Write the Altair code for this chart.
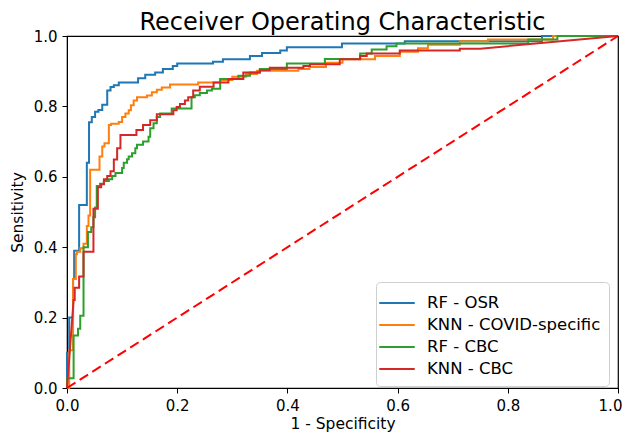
import altair as alt
import pandas as pd

MODELS = ["RF - OSR", "KNN - COVID-specific", "RF - CBC", "KNN - CBC"]
COLORS = ["#1f77b4", "#ff7f0e", "#2ca02c", "#d62728"]

# Staircase ROC points: (fpr where the curve rises, tpr reached)
rf_osr = [(0, 0), (0, 0.10), (0.004, 0.20), (0.011, 0.31), (0.013, 0.39), (0.022, 0.52),
          (0.036, 0.64), (0.040, 0.755), (0.045, 0.77), (0.051, 0.785), (0.057, 0.79),
          (0.064, 0.805), (0.073, 0.845), (0.079, 0.855), (0.085, 0.86), (0.094, 0.868),
          (0.129, 0.88), (0.142, 0.89), (0.160, 0.896), (0.174, 0.906), (0.192, 0.915),
          (0.200, 0.922), (0.265, 0.927), (0.283, 0.934), (0.332, 0.943), (0.354, 0.952),
          (0.387, 0.959), (0.399, 0.968), (0.499, 0.979), (0.613, 0.985), (0.862, 1.0), (1.0, 1.0)]

knn_covid = [(0, 0), (0.004, 0.107), (0.011, 0.31), (0.016, 0.38), (0.018, 0.387), (0.024, 0.397),
             (0.030, 0.41), (0.036, 0.46), (0.039, 0.49), (0.042, 0.62), (0.059, 0.658),
             (0.064, 0.686), (0.068, 0.695), (0.076, 0.747), (0.080, 0.751), (0.094, 0.756),
             (0.100, 0.77), (0.106, 0.78), (0.112, 0.789), (0.116, 0.803), (0.121, 0.817),
             (0.127, 0.826), (0.145, 0.831), (0.154, 0.84), (0.163, 0.847), (0.172, 0.854),
             (0.187, 0.862), (0.238, 0.868), (0.278, 0.875), (0.300, 0.884), (0.325, 0.892),
             (0.345, 0.901), (0.420, 0.906), (0.440, 0.912), (0.470, 0.924), (0.500, 0.934),
             (0.559, 0.943), (0.604, 0.955), (0.637, 0.965), (0.655, 0.975), (0.713, 0.985),
             (0.764, 0.99), (0.882, 1.0), (1.0, 1.0)]

rf_cbc = [(0, 0), (0, 0.028), (0.012, 0.149), (0.020, 0.168), (0.024, 0.205), (0.030, 0.40),
          (0.038, 0.443), (0.044, 0.457), (0.048, 0.485), (0.051, 0.513), (0.054, 0.574),
          (0.060, 0.58), (0.067, 0.588), (0.076, 0.593), (0.082, 0.602), (0.088, 0.611),
          (0.100, 0.625), (0.103, 0.64), (0.109, 0.65), (0.112, 0.658), (0.118, 0.667),
          (0.124, 0.681), (0.127, 0.691), (0.138, 0.70), (0.148, 0.714), (0.151, 0.738),
          (0.157, 0.752), (0.163, 0.77), (0.169, 0.78), (0.190, 0.794), (0.226, 0.826),
          (0.232, 0.832), (0.241, 0.838), (0.254, 0.845), (0.263, 0.85), (0.278, 0.878),
          (0.311, 0.887), (0.332, 0.896), (0.350, 0.906), (0.399, 0.922), (0.468, 0.935),
          (0.532, 0.95), (0.553, 0.962), (0.580, 0.971), (0.598, 0.979), (0.837, 0.99),
          (0.890, 1.0), (1.0, 1.0)]

# KNN - CBC curve vertices (drawn straight between points)
knn_cbc = [(0, 0), (0.012, 0.25), (0.014, 0.25), (0.014, 0.285), (0.022, 0.285), (0.022, 0.317),
           (0.030, 0.317), (0.030, 0.387), (0.048, 0.387), (0.048, 0.509), (0.056, 0.509),
           (0.056, 0.57), (0.062, 0.57), (0.062, 0.579), (0.067, 0.579), (0.067, 0.593),
           (0.073, 0.593), (0.073, 0.602), (0.079, 0.602), (0.079, 0.616), (0.085, 0.616),
           (0.085, 0.649), (0.091, 0.649), (0.091, 0.681), (0.097, 0.681), (0.097, 0.719),
           (0.126, 0.719), (0.126, 0.733), (0.138, 0.733), (0.138, 0.747), (0.151, 0.747),
           (0.151, 0.761), (0.163, 0.761), (0.163, 0.778), (0.193, 0.778), (0.193, 0.789),
           (0.199, 0.789), (0.199, 0.798), (0.205, 0.798), (0.205, 0.807), (0.214, 0.807),
           (0.214, 0.817), (0.220, 0.817), (0.220, 0.826), (0.229, 0.826), (0.229, 0.845),
           (0.241, 0.845), (0.241, 0.856), (0.266, 0.856), (0.266, 0.868), (0.293, 0.868),
           (0.293, 0.878), (0.320, 0.878), (0.320, 0.896), (0.350, 0.896), (0.350, 0.903),
           (0.368, 0.903), (0.368, 0.910), (0.429, 0.910), (0.429, 0.915), (0.441, 0.915),
           (0.441, 0.920), (0.495, 0.920), (0.495, 0.934), (0.532, 0.934), (0.532, 0.943),
           (0.544, 0.943), (0.544, 0.950), (0.604, 0.950), (0.604, 0.959), (0.713, 0.959),
           (0.713, 0.964), (0.750, 0.964), (1.0, 1.0)]

chance = [(0.0, 0.0), (1.0, 1.0)]

TICKS = [0.0, 0.2, 0.4, 0.6, 0.8, 1.0]


def frame(points, name):
    return pd.DataFrame({
        "fpr": [p[0] for p in points],
        "tpr": [p[1] for p in points],
        "model": name,
        "i": list(range(len(points))),
    })


step_df = pd.concat([frame(rf_osr, MODELS[0]), frame(knn_covid, MODELS[1]), frame(rf_cbc, MODELS[2])])
red_df = frame(knn_cbc, MODELS[3])
chance_df = frame(chance, "chance")

FONT = "DejaVu Sans"

x_enc = alt.X("fpr:Q", scale=alt.Scale(domain=[0, 1], nice=False),
              axis=alt.Axis(title="1 - Specificity", values=TICKS, format=".1f", labelFlush=False,
                            labelOffset={"condition": {"test": "datum.value >= 1", "value": -8},
                                         "value": 0}))
y_enc = alt.Y("tpr:Q", scale=alt.Scale(domain=[0, 1], nice=False),
              axis=alt.Axis(title="Sensitivity", values=TICKS, format=".1f", labelFlush=False))
color_enc = alt.Color("model:N", scale=alt.Scale(domain=MODELS, range=COLORS),
                      legend=alt.Legend(title=None, orient="none", legendX=309, legendY=246,
                                        symbolType="M-1.5,0L1.5,0", symbolSize=560,
                                        symbolStrokeWidth=2, symbolFillColor="transparent",
                                        labelFontSize=16.5, labelFont=FONT, labelColor="#000",
                                        labelLimit=400, padding=8, rowPadding=0, labelOffset=17,
                                        strokeColor="#d0d0d0", fillColor="white",
                                        cornerRadius=4))

steps = alt.Chart(step_df).mark_line(interpolate="step-after", strokeWidth=2).encode(
    x=x_enc, y=y_enc, color=color_enc, order="i:Q")
red = alt.Chart(red_df).mark_line(strokeWidth=2).encode(
    x=x_enc, y=y_enc, color=color_enc, order="i:Q")
diag = alt.Chart(chance_df).mark_line(color="#ff0000", strokeWidth=2, strokeDash=[10, 5]).encode(
    x=x_enc, y=y_enc)

chart = alt.layer(steps, red, diag).properties(
    width=551, height=352,
    title=alt.TitleParams("Receiver Operating Characteristic", fontSize=24, font=FONT,
                          fontWeight="normal", color="#000", offset=-6),
    autosize=alt.AutoSizeParams(type="none"),
    padding={"left": 59, "top": 28, "right": 4, "bottom": 46},
).configure_view(stroke="#000", strokeWidth=1.2).configure_axis(
    grid=False, domainColor="#000", tickColor="#000", tickSize=5, labelFont=FONT,
    labelFontSize=15, labelColor="#000", titleFont=FONT, titleFontSize=15.5,
    titleColor="#000", titleFontWeight="normal", labelPadding=5,
).configure_axisX(titlePadding=3).configure_axisY(titlePadding=8)

chart.save("out.html", embed_options={"renderer": "svg", "actions": False})
